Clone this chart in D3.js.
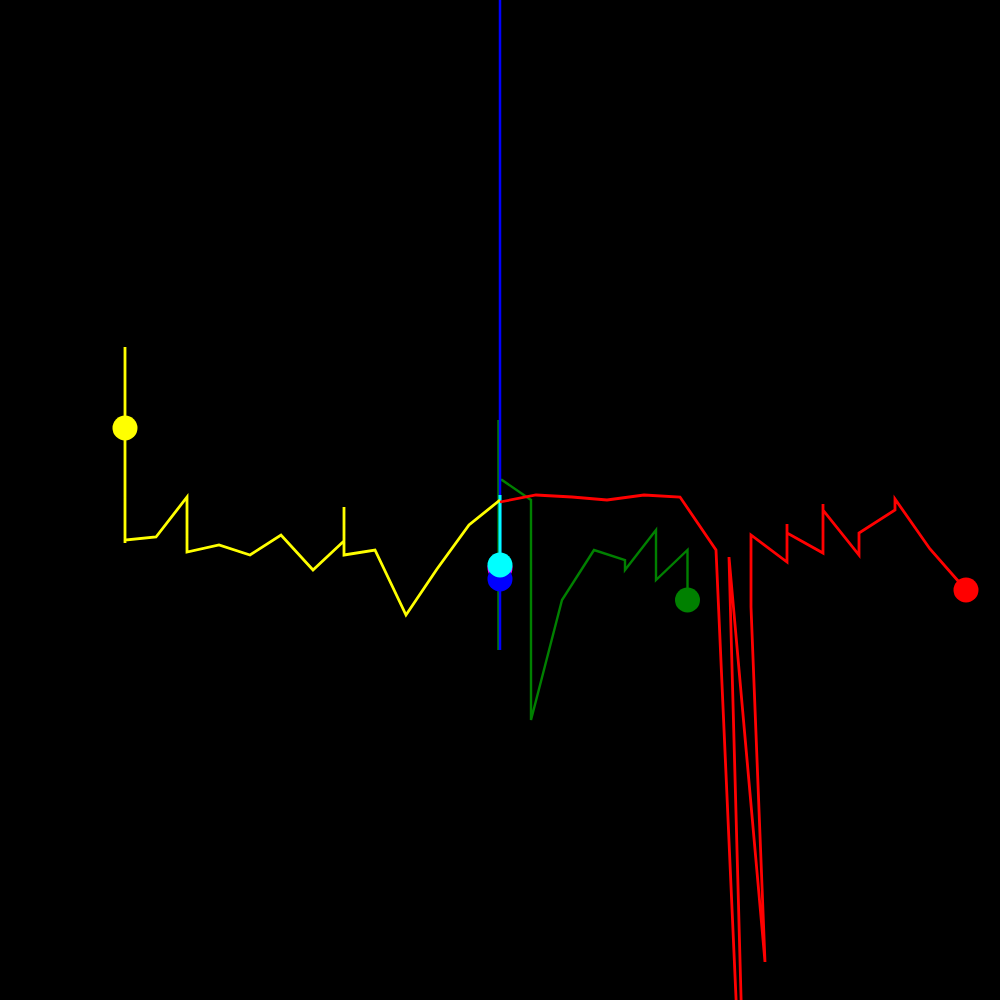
<!DOCTYPE html>
<html>
<head>
<meta charset="utf-8">
<script src="https://cdn.jsdelivr.net/npm/d3@7"></script>
<style>
  html, body { margin: 0; padding: 0; background: #000; }
  svg { display: block; }
</style>
</head>
<body>
<svg id="chart"></svg>
<script>
// each trail: list of [x, y] positions, last point gets the marker
var greenTrail = [[498.5,650],[498.5,420],[498.5,480],[502,480],[531,500],[531,720],[562,600],[594,550],[625,560],[625,570],[656,530],[656,580],[687.5,550],[687.5,600]];
var magentaTrail = [[500,568],[500,568]];
var blueTrail = [[500,650],[500,-100],[500,579]];
var cyanTrail = [[500,495],[500,565]];
var yellowTrail = [[500,500],[469,525],[437,569],[406,615],[375,550],[344,555],[344,507],[344,541],[313,570],[281,535],[250,555],[219,545],[187,552],[187,497],[156,537],[125,540],[125,543],[125,347],[125,475],[125,428]];
var redTrail = [[500,502],[536,495],[572,497],[607,500],[644,495],[680,497],[716,550],[749,1289],[729,557],[765,962],[751,607],[751,535],[787,562],[787,524],[787,533],[823,553],[823,504],[823,510],[859,555],[859,533],[895,510],[895,499],[930,549],[966,590]];

var series = [
  {name: "green", color: "#008000", width: 2.4, pts: greenTrail},
  {name: "magenta", color: "#ff00ff", width: 2.5, pts: magentaTrail},
  {name: "blue", color: "#0000ff", width: 2.5, pts: blueTrail},
  {name: "cyan", color: "#00ffff", width: 3, pts: cyanTrail},
  {name: "yellow", color: "#ffff00", width: 2.8, pts: yellowTrail},
  {name: "red", color: "#ff0000", width: 2.8, pts: redTrail}
];

var width = 1000, height = 1000;

var xScale = d3.scaleLinear().domain([0, 1000]).range([0, width]);
var yScale = d3.scaleLinear().domain([0, 1000]).range([0, height]);

var svg = d3.select("#chart")
  .attr("width", width)
  .attr("height", height)
  .style("background", "#000");

var line = d3.line()
  .curve(d3.curveLinear)
  .x(function(d) { return xScale(d[0]); })
  .y(function(d) { return yScale(d[1]); });

var g = svg.selectAll("g.trail")
  .data(series)
  .enter().append("g")
  .attr("class", function(d) { return "trail " + d.name; });

g.append("path")
  .attr("d", function(d) { return line(d.pts); })
  .attr("fill", "none")
  .attr("stroke", function(d) { return d.color; })
  .attr("stroke-width", function(d) { return d.width; })
  .attr("stroke-linejoin", "miter");

g.append("circle")
  .attr("cx", function(d) { return xScale(d.pts[d.pts.length - 1][0]); })
  .attr("cy", function(d) { return yScale(d.pts[d.pts.length - 1][1]); })
  .attr("r", 12.5)
  .attr("fill", function(d) { return d.color; });
</script>
</body>
</html>
